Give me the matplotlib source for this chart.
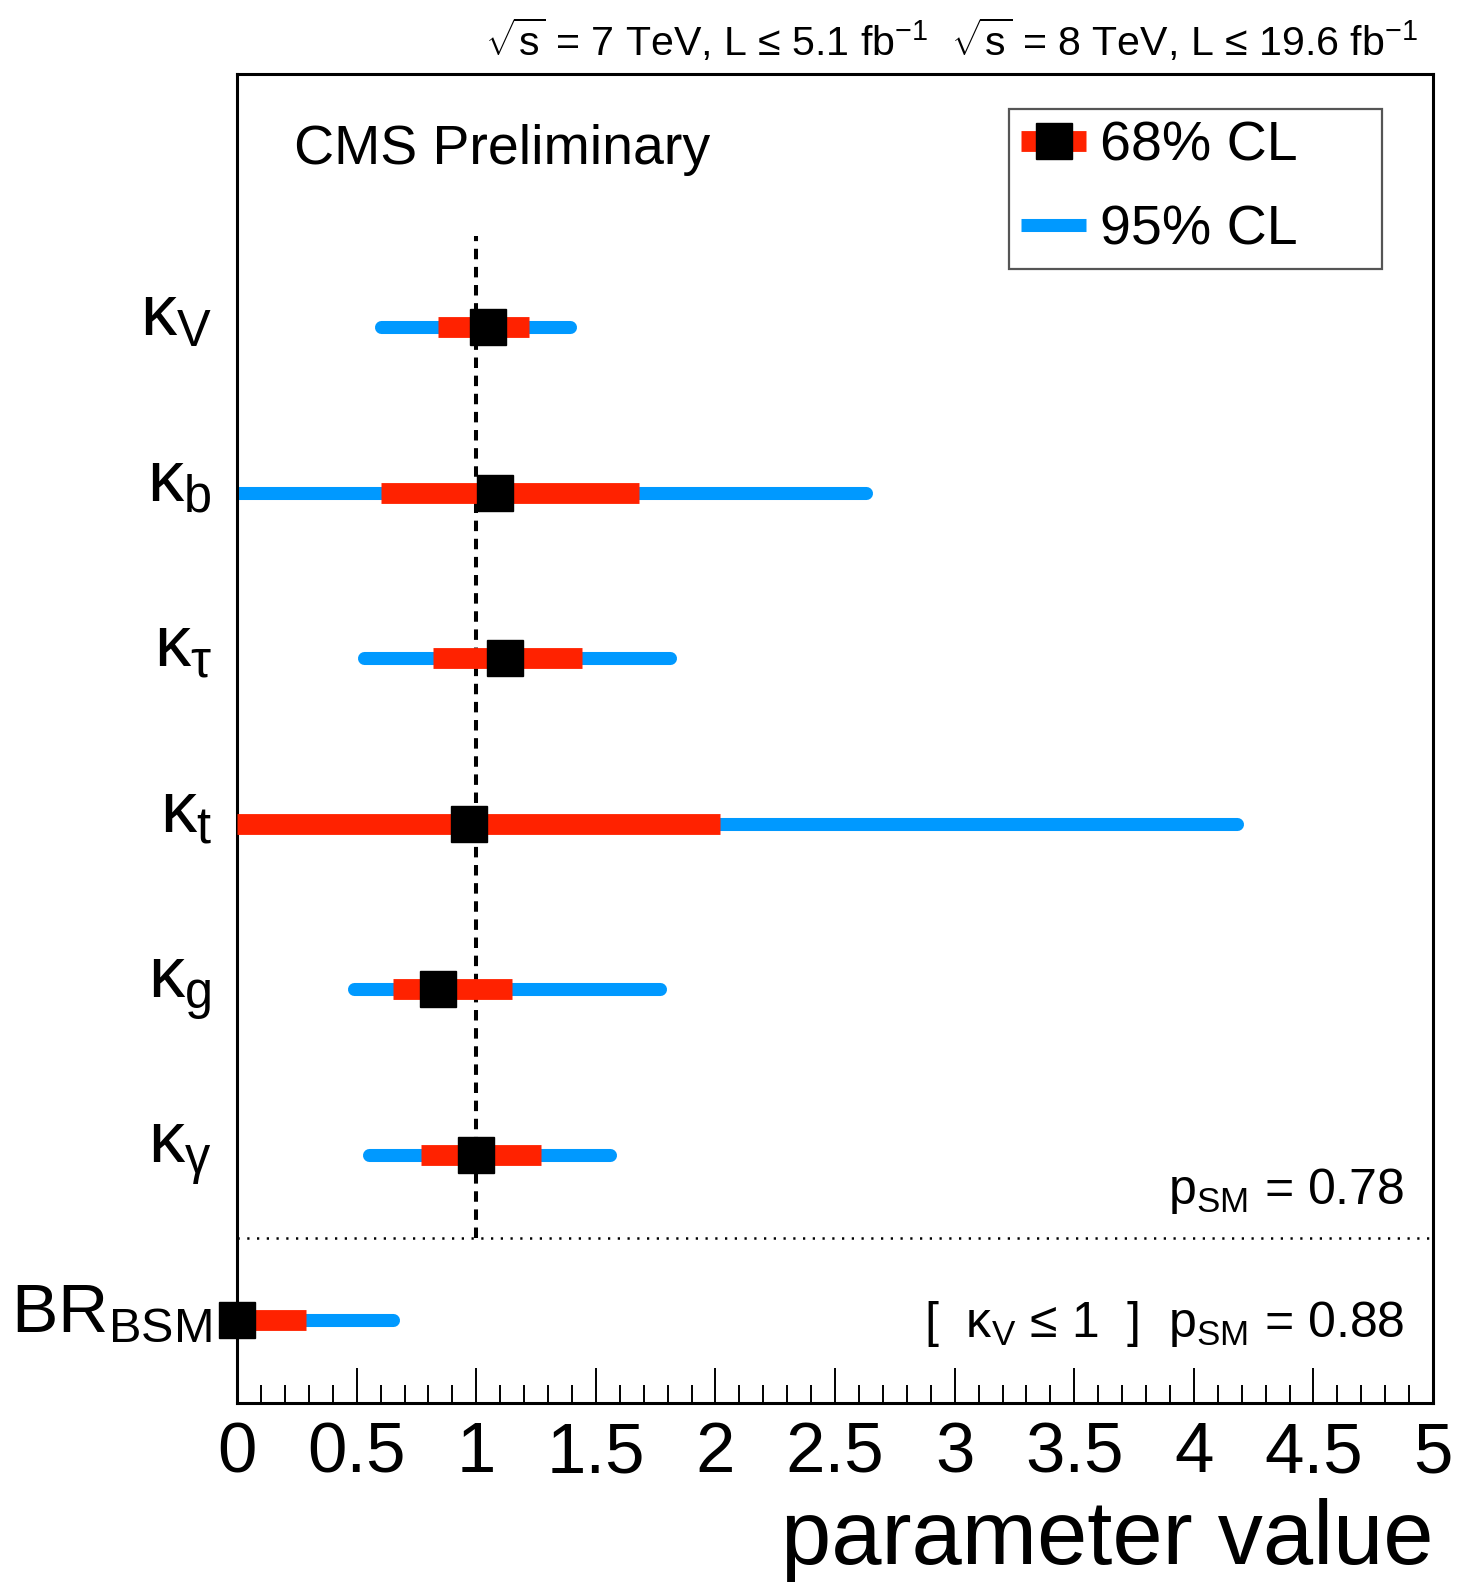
import matplotlib
matplotlib.use('Agg')
import matplotlib.pyplot as plt
from matplotlib.lines import Line2D
from matplotlib.ticker import MultipleLocator
import matplotlib.transforms as mtransforms

plt.rcParams['font.family'] = ['Liberation Sans', 'DejaVu Sans']
plt.rcParams['mathtext.fontset'] = 'custom'
plt.rcParams['mathtext.rm'] = 'Liberation Sans'
plt.rcParams['mathtext.it'] = 'Liberation Sans'
plt.rcParams['mathtext.default'] = 'regular'

# couplings, top to bottom
labels = [r'$κ_{V}$', r'$κ_{b}$', r'$κ_{τ}$', r'$κ_{t}$', r'$κ_{g}$', r'$κ_{γ}$', r'$BR_{BSM}$']
best = [1.05, 1.08, 1.12, 0.97, 0.84, 1.00, 0.00]
lo68 = [0.84, 0.60, 0.82, 0.00, 0.65, 0.77, 0.00]
hi68 = [1.22, 1.68, 1.44, 2.02, 1.15, 1.27, 0.29]
lo95 = [0.60, 0.00, 0.53, 0.00, 0.49, 0.55, 0.00]
hi95 = [1.39, 2.63, 1.81, 4.18, 1.77, 1.56, 0.65]
p_sm = [0.78, 0.88]

red = '#ff2200'
blue = '#0099ff'

fig = plt.figure(figsize=(14.58, 15.82), dpi=100)
ax = fig.add_axes([0.1626, 0.1131, 0.8203, 0.8401])

n = len(labels)
ypos = [n - 0.5 - i for i in range(n)]

for y, b, l68, h68, l95, h95 in zip(ypos, best, lo68, hi68, lo95, hi95):
    ax.plot([l95, h95], [y, y], color=blue, lw=9.4, solid_capstyle='round', zorder=2)
    ax.plot([l68, h68], [y, y], color=red, lw=15, solid_capstyle='butt', zorder=3)
    ax.plot([b], [y], marker='s', color='black', markersize=26.5, ls='none', zorder=4, clip_on=False)

# SM line and separator
ax.plot([1, 1], [1, n + 0.05], color='black', lw=2.9, ls=(0, (2.6, 1.9)), zorder=1)
ax.axhline(1, color='black', lw=1.8, ls=(0, (0.9, 3.0)), zorder=1)

ax.set_xlim(0, 5)
ax.set_ylim(0, 8.03)

# y labels as text
trans = mtransforms.blended_transform_factory(ax.transAxes, ax.transData)
for y, lab in zip(ypos, labels):
    off = -0.07 if 'BR' in lab else -0.05
    ax.text(-0.021, y + off, lab, transform=trans, ha='right', va='baseline',
            fontsize=52 if 'BR' not in lab else 50)
ax.set_yticks([])

ax.xaxis.set_minor_locator(MultipleLocator(0.1))
ax.set_xticks([0, 0.5, 1, 1.5, 2, 2.5, 3, 3.5, 4, 4.5, 5])
ax.set_xticklabels(['0', '0.5', '1', '1.5', '2', '2.5', '3', '3.5', '4', '4.5', '5'])
ax.tick_params(axis='x', which='major', direction='in', length=25, width=1.4, labelsize=51, pad=13)
ax.tick_params(axis='x', which='minor', direction='in', length=13, width=1.4)
for sp in ax.spines.values():
    sp.set_linewidth(2.2)

ax.set_xlabel('parameter value', fontsize=65, loc='right', labelpad=8)

ax.text(0.048, 0.932, 'CMS Preliminary', transform=ax.transAxes, fontsize=40, va='baseline')

ax.text(4.88, 1.2, r'$p_{SM}$ = %.2f' % p_sm[0], fontsize=36, ha='right', va='baseline')
ax.text(4.88, 0.4, r'[  $κ_{V}$ ≤ 1  ]  $p_{SM}$ = %.2f' % p_sm[1], fontsize=36, ha='right', va='baseline')

fig.text(0.9726, 0.9646, r'$\sqrt{s}$ = 7 TeV, L ≤ 5.1 fb$^{-1}$  $\sqrt{s}$ = 8 TeV, L ≤ 19.6 fb$^{-1}$',
         fontsize=29.6, ha='right', va='baseline')

handles = [
    Line2D([], [], color=red, lw=15, marker='s', markersize=26.5, markerfacecolor='black',
           markeredgecolor='black', solid_capstyle='butt'),
    Line2D([], [], color=blue, lw=9.4, solid_capstyle='butt'),
]
leg = ax.legend(handles, ['68% CL', '95% CL'], loc='upper left',
                bbox_to_anchor=(0.6455, 0.853, 0.3115, 0.121), mode='expand',
                borderaxespad=0, fontsize=40, handlelength=1.17, handletextpad=0.25,
                labelspacing=0.57, borderpad=0.22, fancybox=False, framealpha=1)
leg.get_frame().set_edgecolor('#555555')
leg.get_frame().set_linewidth(1.6)

fig.savefig('out.png', dpi=100)
